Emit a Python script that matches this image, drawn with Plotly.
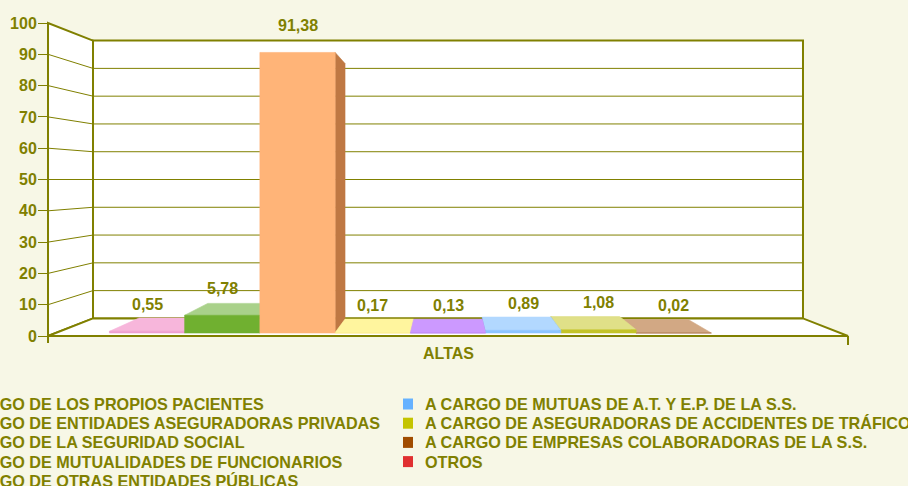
import plotly.graph_objects as go

# ---------------- data ----------------
categories = [
    "A CARGO DE LOS PROPIOS PACIENTES",
    "A CARGO DE ENTIDADES ASEGURADORAS PRIVADAS",
    "A CARGO DE LA SEGURIDAD SOCIAL",
    "A CARGO DE MUTUALIDADES DE FUNCIONARIOS",
    "A CARGO DE OTRAS ENTIDADES PÚBLICAS",
    "A CARGO DE MUTUAS DE A.T. Y E.P. DE LA S.S.",
    "A CARGO DE ASEGURADORAS DE ACCIDENTES DE TRÁFICO",
    "A CARGO DE EMPRESAS COLABORADORAS DE LA S.S.",
    "OTROS",
]
values = [0.55, 5.78, 91.38, 0.17, 0.13, 0.89, 1.08, 0.02, None]
value_labels = ["0,55", "5,78", "91,38", "0,17", "0,13", "0,89", "1,08", "0,02", ""]
y_ticks = [0, 10, 20, 30, 40, 50, 60, 70, 80, 90, 100]
x_category = "ALTAS"

legend_colors = ["#EE6FB8", "#5AA020", "#FF9A40", "#FFEE55", "#A060F0",
                 "#66B2FF", "#C4C400", "#A04C00", "#E03030"]
front_colors = ["#EE9FD0", "#70B030", "#FFB478", "#FFEB7A", "#B57CF2",
                "#8CC4FF", "#C4C428", "#B07A50", "#E03030"]
top_colors = ["#F7B6DB", "#A9D18A", "#FFD3A8", "#FFF59E", "#CC99FF",
              "#B2D8FF", "#E0E088", "#D2A884", "#F09898"]
side_colors = ["#C080A8", "#4F8020", "#BF7843", "#C8B850", "#8E5CC8",
               "#6A9ACC", "#9C9C10", "#7A3A00", "#A02020"]

# ---------------- style / geometry ----------------
OLIVE = "#808000"
BG = "#F7F7E6"
FONT = "Liberation Sans, Arial, sans-serif"
W, H = 908, 486

UC, VC = 4.5, 50.0          # vanishing centre (category units, value units)
S_BACK = 0.8875             # scale of back wall
S_BAR_FRONT = 0.981         # scale of bar front faces
S_BAR_BACK = 0.895          # scale of bar back faces
U_L, U_R = UC - 5.215, UC + 5.215
PXU, PXV = 76.7, 3.13       # pixels per category slot / per value unit
X_C, Y_0 = 448, 336         # pixel of u=UC, v=0

x_range = [UC - X_C / PXU, UC + (W - X_C) / PXU]
y_range = [(Y_0 - H) / PXV, Y_0 / PXV]


def proj(u, v, s):
    return UC + (u - UC) * s, VC + (v - VC) * s


def poly(points, fill, line_color=None, lw=0.6):
    xs = [p[0] for p in points] + [points[0][0]]
    ys = [p[1] for p in points] + [points[0][1]]
    return go.Scatter(x=xs, y=ys, mode="lines", fill="toself", fillcolor=fill,
                      line=dict(color=line_color or fill, width=lw),
                      hoverinfo="skip", showlegend=False)


fig = go.Figure()

# walls and floor
fig.add_trace(poly([proj(U_L, 0, 1), proj(U_L, 100, 1), proj(U_L, 100, S_BACK), proj(U_L, 0, S_BACK)],
                   "white", OLIVE, 2))
fig.add_trace(poly([proj(U_L, 0, S_BACK), proj(U_R, 0, S_BACK), proj(U_R, 100, S_BACK), proj(U_L, 100, S_BACK)],
                   "white", OLIVE, 2))
fig.add_trace(poly([proj(U_L, 0, 1), proj(U_R, 0, 1), proj(U_R, 0, S_BACK), proj(U_L, 0, S_BACK)],
                   "white", OLIVE, 2))

# gridlines
gx, gy = [], []
for t in y_ticks[1:-1]:
    for p in (proj(U_L, t, 1), proj(U_L, t, S_BACK), proj(U_R, t, S_BACK)):
        gx.append(p[0]); gy.append(p[1])
    gx.append(None); gy.append(None)
fig.add_trace(go.Scatter(x=gx, y=gy, mode="lines", line=dict(color=OLIVE, width=1),
                         hoverinfo="skip", showlegend=False))

# front axis line and floor corner ticks
ext_l, ext_r = 7 / PXV, 9 / PXV
ax_pts = [proj(U_L, 100, 1), proj(U_L, -ext_l, 1)]
fig.add_trace(go.Scatter(x=[p[0] for p in ax_pts], y=[p[1] for p in ax_pts], mode="lines",
                         line=dict(color=OLIVE, width=2), hoverinfo="skip", showlegend=False))
rt_pts = [proj(U_R, 0, 1), proj(U_R, -ext_r, 1)]
fig.add_trace(go.Scatter(x=[p[0] for p in rt_pts], y=[p[1] for p in rt_pts], mode="lines",
                         line=dict(color=OLIVE, width=2), hoverinfo="skip", showlegend=False))

# bars (painter's order: outside -> centre)
n = len(values)
left = [i for i in range(n) if i + 1 <= UC]
right = [i for i in range(n) if i >= UC][::-1]
centre = [i for i in range(n) if i < UC < i + 1]
order = left + right + centre

s0, s1 = S_BAR_FRONT, S_BAR_BACK
for i in order:
    v = values[i]
    if v is None:
        continue
    if i + 1 <= UC:
        us = i + 1
    elif i >= UC:
        us = i
    else:
        us = None
    if us is not None:
        fig.add_trace(poly([proj(us, 0, s0), proj(us, v, s0), proj(us, v, s1), proj(us, 0, s1)],
                           side_colors[i]))
    if v < VC:
        fig.add_trace(poly([proj(i, v, s0), proj(i + 1, v, s0), proj(i + 1, v, s1), proj(i, v, s1)],
                           top_colors[i]))
    fig.add_trace(poly([proj(i, 0, s0), proj(i + 1, 0, s0), proj(i + 1, v, s0), proj(i, v, s0)],
                       front_colors[i]))

annotations = []
for i, v in enumerate(values):
    if v is None:
        continue
    x, y = proj(i + 0.5, v, s0)
    annotations.append(dict(x=x, y=y, xref="x", yref="y", text=value_labels[i], showarrow=False,
                            yshift=27, font=dict(family=FONT, size=16, color=OLIVE, weight="bold")))

annotations.append(dict(x=UC, y=(Y_0 - 353) / PXV, xref="x", yref="y", text=x_category,
                        showarrow=False, font=dict(family=FONT, size=16, color=OLIVE, weight="bold")))

# legend (two columns, left column partially off-canvas as in the source)
shapes = []
for i, name in enumerate(categories):
    col = 0 if i < 5 else 1
    row = i if col == 0 else i - 5
    tx = -51 if col == 0 else 425          # where the text should begin
    ty = 404 + row * 19.2
    annotations.append(dict(x=(tx - 2) / W, y=1 - ty / H, xref="paper", yref="paper", text=name,
                            xanchor="left", yanchor="middle", showarrow=False,
                            font=dict(family=FONT, size=16.2, color=OLIVE, weight="bold")))
    shapes.append(dict(type="rect", xref="paper", yref="paper",
                       x0=(tx - 22) / W, x1=(tx - 12) / W,
                       y0=1 - (ty + 5.5) / H, y1=1 - (ty - 5.5) / H,
                       fillcolor=legend_colors[i], line=dict(width=0)))

fig.update_layout(
    width=W, height=H,
    margin=dict(l=0, r=0, t=0, b=0),
    paper_bgcolor=BG, plot_bgcolor=BG,
    showlegend=False, hovermode=False,
    annotations=annotations, shapes=shapes,
    xaxis=dict(range=x_range, visible=False, fixedrange=True),
    yaxis=dict(range=y_range, anchor="free", position=(X_C + (U_L - UC) * PXU) / W,
               tickvals=y_ticks, ticktext=[str(t) for t in y_ticks],
               ticks="outside", ticklen=10, tickwidth=1, tickcolor=OLIVE,
               ticklabelstandoff=-2,
               tickfont=dict(family=FONT, size=16, color=OLIVE, weight="bold"),
               showgrid=False, zeroline=False, showline=False, automargin=False,
               fixedrange=True),
)

fig.write_html(
    "out.html",
    config={"displayModeBar": False},
    post_script="document.body.style.margin='0';document.body.style.background='" + BG + "';",
)
